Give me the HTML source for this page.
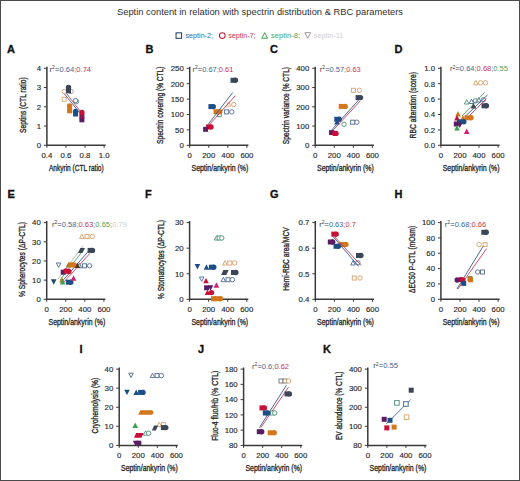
<!DOCTYPE html><html><head><meta charset="utf-8"><style>html,body{margin:0;padding:0;background:#fff;}svg{display:block;font-family:"Liberation Sans",sans-serif;}</style></head><body><svg width="520" height="481" viewBox="0 0 520 481" font-family="Liberation Sans, sans-serif">
<rect x="0" y="0" width="520" height="481" fill="#fff"/>
<text x="260" y="15" font-size="9.5" text-anchor="middle" fill="#303030" font-weight="normal" textLength="286" lengthAdjust="spacingAndGlyphs" >Septin content in relation with spectrin distribution &amp; RBC parameters</text>
<rect x="176.05" y="32.85" width="5.50" height="5.50" fill="white" stroke="#2e4a6e" stroke-width="1.1"/>
<text x="185.5" y="38.3" font-size="7.3" text-anchor="start" fill="#3d6a9c" font-weight="normal" textLength="27.5" lengthAdjust="spacingAndGlyphs" >septin-2;</text>
<circle cx="222.30" cy="35.60" r="2.85" fill="white" stroke="#c0283e" stroke-width="1.1"/>
<text x="228.3" y="38.3" font-size="7.3" text-anchor="start" fill="#c8344e" font-weight="normal" textLength="27.3" lengthAdjust="spacingAndGlyphs" >septin-7;</text>
<path d="M264.70,32.60 L267.60,38.20 L261.80,38.20Z" fill="white" stroke="#3a9a4a" stroke-width="1.0"/>
<text x="271" y="38.3" font-size="7.3" text-anchor="start" fill="#4aa55a" font-weight="normal" textLength="29" lengthAdjust="spacingAndGlyphs" >septin-8;</text>
<path d="M307.80,38.30 L310.70,32.70 L304.90,32.70Z" fill="white" stroke="#9a9a9a" stroke-width="1.0"/>
<text x="313.8" y="38.3" font-size="7.3" text-anchor="start" fill="#cfcfcf" font-weight="normal" textLength="29.5" lengthAdjust="spacingAndGlyphs" >septin-11</text>
<text x="6.9" y="52.5" font-size="11" text-anchor="start" fill="#111" font-weight="bold" stroke="#111" stroke-width="0.3" >A</text>
<path d="M46.9,66.80000000000001 V145.3 H105.6" fill="none" stroke="#3a3a3a" stroke-width="1.5"/>
<line x1="43.9" y1="145.30" x2="46.9" y2="145.30" stroke="#3a3a3a" stroke-width="1"/>
<text x="41.0" y="148.10000000000002" font-size="7.8" text-anchor="end" fill="#2a2a2a" font-weight="normal" stroke="#2a2a2a" stroke-width="0.15" >0</text>
<line x1="43.9" y1="126.05" x2="46.9" y2="126.05" stroke="#3a3a3a" stroke-width="1"/>
<text x="41.0" y="128.85000000000002" font-size="7.8" text-anchor="end" fill="#2a2a2a" font-weight="normal" stroke="#2a2a2a" stroke-width="0.15" >1</text>
<line x1="43.9" y1="106.80" x2="46.9" y2="106.80" stroke="#3a3a3a" stroke-width="1"/>
<text x="41.0" y="109.60000000000001" font-size="7.8" text-anchor="end" fill="#2a2a2a" font-weight="normal" stroke="#2a2a2a" stroke-width="0.15" >2</text>
<line x1="43.9" y1="87.55" x2="46.9" y2="87.55" stroke="#3a3a3a" stroke-width="1"/>
<text x="41.0" y="90.35000000000001" font-size="7.8" text-anchor="end" fill="#2a2a2a" font-weight="normal" stroke="#2a2a2a" stroke-width="0.15" >3</text>
<line x1="43.9" y1="68.30" x2="46.9" y2="68.30" stroke="#3a3a3a" stroke-width="1"/>
<text x="41.0" y="71.10000000000001" font-size="7.8" text-anchor="end" fill="#2a2a2a" font-weight="normal" stroke="#2a2a2a" stroke-width="0.15" >4</text>
<line x1="46.90" y1="145.3" x2="46.90" y2="147.8" stroke="#3a3a3a" stroke-width="1"/>
<text x="46.9" y="158.3" font-size="7.8" text-anchor="middle" fill="#2a2a2a" font-weight="normal" stroke="#2a2a2a" stroke-width="0.15" >0.4</text>
<line x1="65.97" y1="145.3" x2="65.97" y2="147.8" stroke="#3a3a3a" stroke-width="1"/>
<text x="65.97" y="158.3" font-size="7.8" text-anchor="middle" fill="#2a2a2a" font-weight="normal" stroke="#2a2a2a" stroke-width="0.15" >0.6</text>
<line x1="85.03" y1="145.3" x2="85.03" y2="147.8" stroke="#3a3a3a" stroke-width="1"/>
<text x="85.03" y="158.3" font-size="7.8" text-anchor="middle" fill="#2a2a2a" font-weight="normal" stroke="#2a2a2a" stroke-width="0.15" >0.8</text>
<line x1="104.10" y1="145.3" x2="104.10" y2="147.8" stroke="#3a3a3a" stroke-width="1"/>
<text x="104.1" y="158.3" font-size="7.8" text-anchor="middle" fill="#2a2a2a" font-weight="normal" stroke="#2a2a2a" stroke-width="0.15" >1.0</text>
<text transform="translate(25.9,105.15) rotate(-90)" x="0" y="0" font-size="9.3" text-anchor="middle" fill="#2a2a2a" textLength="55.5" lengthAdjust="spacingAndGlyphs" stroke="#2a2a2a" stroke-width="0.35">Septins (CTL ratio)</text>
<text x="76.3" y="171.3" font-size="9.3" text-anchor="middle" fill="#2a2a2a" font-weight="normal" textLength="54.8" lengthAdjust="spacingAndGlyphs" stroke="#2a2a2a" stroke-width="0.35" >Ankyrin (CTL ratio)</text>
<text x="145.4" y="52.5" font-size="11" text-anchor="start" fill="#111" font-weight="bold" stroke="#111" stroke-width="0.3" >B</text>
<path d="M189.7,66.80000000000001 V145.3 H248.39999999999998" fill="none" stroke="#3a3a3a" stroke-width="1.5"/>
<line x1="186.7" y1="145.30" x2="189.7" y2="145.30" stroke="#3a3a3a" stroke-width="1"/>
<text x="183.79999999999998" y="148.10000000000002" font-size="7.8" text-anchor="end" fill="#2a2a2a" font-weight="normal" stroke="#2a2a2a" stroke-width="0.15" >0</text>
<line x1="186.7" y1="129.90" x2="189.7" y2="129.90" stroke="#3a3a3a" stroke-width="1"/>
<text x="183.79999999999998" y="132.70000000000002" font-size="7.8" text-anchor="end" fill="#2a2a2a" font-weight="normal" stroke="#2a2a2a" stroke-width="0.15" >50</text>
<line x1="186.7" y1="114.50" x2="189.7" y2="114.50" stroke="#3a3a3a" stroke-width="1"/>
<text x="183.79999999999998" y="117.30000000000001" font-size="7.8" text-anchor="end" fill="#2a2a2a" font-weight="normal" stroke="#2a2a2a" stroke-width="0.15" >100</text>
<line x1="186.7" y1="99.10" x2="189.7" y2="99.10" stroke="#3a3a3a" stroke-width="1"/>
<text x="183.79999999999998" y="101.9" font-size="7.8" text-anchor="end" fill="#2a2a2a" font-weight="normal" stroke="#2a2a2a" stroke-width="0.15" >150</text>
<line x1="186.7" y1="83.70" x2="189.7" y2="83.70" stroke="#3a3a3a" stroke-width="1"/>
<text x="183.79999999999998" y="86.50000000000001" font-size="7.8" text-anchor="end" fill="#2a2a2a" font-weight="normal" stroke="#2a2a2a" stroke-width="0.15" >200</text>
<line x1="186.7" y1="68.30" x2="189.7" y2="68.30" stroke="#3a3a3a" stroke-width="1"/>
<text x="183.79999999999998" y="71.10000000000001" font-size="7.8" text-anchor="end" fill="#2a2a2a" font-weight="normal" stroke="#2a2a2a" stroke-width="0.15" >250</text>
<line x1="189.70" y1="145.3" x2="189.70" y2="147.8" stroke="#3a3a3a" stroke-width="1"/>
<text x="189.7" y="158.3" font-size="7.8" text-anchor="middle" fill="#2a2a2a" font-weight="normal" stroke="#2a2a2a" stroke-width="0.15" >0</text>
<line x1="208.77" y1="145.3" x2="208.77" y2="147.8" stroke="#3a3a3a" stroke-width="1"/>
<text x="208.77" y="158.3" font-size="7.8" text-anchor="middle" fill="#2a2a2a" font-weight="normal" stroke="#2a2a2a" stroke-width="0.15" >200</text>
<line x1="227.83" y1="145.3" x2="227.83" y2="147.8" stroke="#3a3a3a" stroke-width="1"/>
<text x="227.83" y="158.3" font-size="7.8" text-anchor="middle" fill="#2a2a2a" font-weight="normal" stroke="#2a2a2a" stroke-width="0.15" >400</text>
<line x1="246.90" y1="145.3" x2="246.90" y2="147.8" stroke="#3a3a3a" stroke-width="1"/>
<text x="246.9" y="158.3" font-size="7.8" text-anchor="middle" fill="#2a2a2a" font-weight="normal" stroke="#2a2a2a" stroke-width="0.15" >600</text>
<text transform="translate(163.3,105.2) rotate(-90)" x="0" y="0" font-size="9.3" text-anchor="middle" fill="#2a2a2a" textLength="77.4" lengthAdjust="spacingAndGlyphs" stroke="#2a2a2a" stroke-width="0.35">Spectrin covering (% CTL)</text>
<text x="219.9" y="171.3" font-size="9.3" text-anchor="middle" fill="#2a2a2a" font-weight="normal" textLength="56.8" lengthAdjust="spacingAndGlyphs" stroke="#2a2a2a" stroke-width="0.35" >Septin/ankyrin (%)</text>
<text x="269.9" y="52.5" font-size="11" text-anchor="start" fill="#111" font-weight="bold" stroke="#111" stroke-width="0.3" >C</text>
<path d="M315.2,66.80000000000001 V145.3 H373.9" fill="none" stroke="#3a3a3a" stroke-width="1.5"/>
<line x1="312.2" y1="145.30" x2="315.2" y2="145.30" stroke="#3a3a3a" stroke-width="1"/>
<text x="309.3" y="148.10000000000002" font-size="7.8" text-anchor="end" fill="#2a2a2a" font-weight="normal" stroke="#2a2a2a" stroke-width="0.15" >0</text>
<line x1="312.2" y1="126.05" x2="315.2" y2="126.05" stroke="#3a3a3a" stroke-width="1"/>
<text x="309.3" y="128.85000000000002" font-size="7.8" text-anchor="end" fill="#2a2a2a" font-weight="normal" stroke="#2a2a2a" stroke-width="0.15" >100</text>
<line x1="312.2" y1="106.80" x2="315.2" y2="106.80" stroke="#3a3a3a" stroke-width="1"/>
<text x="309.3" y="109.60000000000001" font-size="7.8" text-anchor="end" fill="#2a2a2a" font-weight="normal" stroke="#2a2a2a" stroke-width="0.15" >200</text>
<line x1="312.2" y1="87.55" x2="315.2" y2="87.55" stroke="#3a3a3a" stroke-width="1"/>
<text x="309.3" y="90.35000000000001" font-size="7.8" text-anchor="end" fill="#2a2a2a" font-weight="normal" stroke="#2a2a2a" stroke-width="0.15" >300</text>
<line x1="312.2" y1="68.30" x2="315.2" y2="68.30" stroke="#3a3a3a" stroke-width="1"/>
<text x="309.3" y="71.10000000000001" font-size="7.8" text-anchor="end" fill="#2a2a2a" font-weight="normal" stroke="#2a2a2a" stroke-width="0.15" >400</text>
<line x1="315.20" y1="145.3" x2="315.20" y2="147.8" stroke="#3a3a3a" stroke-width="1"/>
<text x="315.2" y="158.3" font-size="7.8" text-anchor="middle" fill="#2a2a2a" font-weight="normal" stroke="#2a2a2a" stroke-width="0.15" >0</text>
<line x1="334.27" y1="145.3" x2="334.27" y2="147.8" stroke="#3a3a3a" stroke-width="1"/>
<text x="334.27" y="158.3" font-size="7.8" text-anchor="middle" fill="#2a2a2a" font-weight="normal" stroke="#2a2a2a" stroke-width="0.15" >200</text>
<line x1="353.33" y1="145.3" x2="353.33" y2="147.8" stroke="#3a3a3a" stroke-width="1"/>
<text x="353.33" y="158.3" font-size="7.8" text-anchor="middle" fill="#2a2a2a" font-weight="normal" stroke="#2a2a2a" stroke-width="0.15" >400</text>
<line x1="372.40" y1="145.3" x2="372.40" y2="147.8" stroke="#3a3a3a" stroke-width="1"/>
<text x="372.4" y="158.3" font-size="7.8" text-anchor="middle" fill="#2a2a2a" font-weight="normal" stroke="#2a2a2a" stroke-width="0.15" >600</text>
<text transform="translate(289.0,105.6) rotate(-90)" x="0" y="0" font-size="9.3" text-anchor="middle" fill="#2a2a2a" textLength="77.2" lengthAdjust="spacingAndGlyphs" stroke="#2a2a2a" stroke-width="0.35">Spectrin variance (% CTL)</text>
<text x="345.4" y="171.3" font-size="9.3" text-anchor="middle" fill="#2a2a2a" font-weight="normal" textLength="56.8" lengthAdjust="spacingAndGlyphs" stroke="#2a2a2a" stroke-width="0.35" >Septin/ankyrin (%)</text>
<text x="394.5" y="52.5" font-size="11" text-anchor="start" fill="#111" font-weight="bold" stroke="#111" stroke-width="0.3" >D</text>
<path d="M440.9,66.80000000000001 V145.3 H499.59999999999997" fill="none" stroke="#3a3a3a" stroke-width="1.5"/>
<line x1="437.9" y1="145.30" x2="440.9" y2="145.30" stroke="#3a3a3a" stroke-width="1"/>
<text x="435.0" y="148.10000000000002" font-size="7.8" text-anchor="end" fill="#2a2a2a" font-weight="normal" stroke="#2a2a2a" stroke-width="0.15" >0.0</text>
<line x1="437.9" y1="129.90" x2="440.9" y2="129.90" stroke="#3a3a3a" stroke-width="1"/>
<text x="435.0" y="132.70000000000002" font-size="7.8" text-anchor="end" fill="#2a2a2a" font-weight="normal" stroke="#2a2a2a" stroke-width="0.15" >0.2</text>
<line x1="437.9" y1="114.50" x2="440.9" y2="114.50" stroke="#3a3a3a" stroke-width="1"/>
<text x="435.0" y="117.30000000000001" font-size="7.8" text-anchor="end" fill="#2a2a2a" font-weight="normal" stroke="#2a2a2a" stroke-width="0.15" >0.4</text>
<line x1="437.9" y1="99.10" x2="440.9" y2="99.10" stroke="#3a3a3a" stroke-width="1"/>
<text x="435.0" y="101.9" font-size="7.8" text-anchor="end" fill="#2a2a2a" font-weight="normal" stroke="#2a2a2a" stroke-width="0.15" >0.6</text>
<line x1="437.9" y1="83.70" x2="440.9" y2="83.70" stroke="#3a3a3a" stroke-width="1"/>
<text x="435.0" y="86.50000000000001" font-size="7.8" text-anchor="end" fill="#2a2a2a" font-weight="normal" stroke="#2a2a2a" stroke-width="0.15" >0.8</text>
<line x1="437.9" y1="68.30" x2="440.9" y2="68.30" stroke="#3a3a3a" stroke-width="1"/>
<text x="435.0" y="71.10000000000001" font-size="7.8" text-anchor="end" fill="#2a2a2a" font-weight="normal" stroke="#2a2a2a" stroke-width="0.15" >1.0</text>
<line x1="440.90" y1="145.3" x2="440.90" y2="147.8" stroke="#3a3a3a" stroke-width="1"/>
<text x="440.9" y="158.3" font-size="7.8" text-anchor="middle" fill="#2a2a2a" font-weight="normal" stroke="#2a2a2a" stroke-width="0.15" >0</text>
<line x1="459.97" y1="145.3" x2="459.97" y2="147.8" stroke="#3a3a3a" stroke-width="1"/>
<text x="459.97" y="158.3" font-size="7.8" text-anchor="middle" fill="#2a2a2a" font-weight="normal" stroke="#2a2a2a" stroke-width="0.15" >200</text>
<line x1="479.03" y1="145.3" x2="479.03" y2="147.8" stroke="#3a3a3a" stroke-width="1"/>
<text x="479.03" y="158.3" font-size="7.8" text-anchor="middle" fill="#2a2a2a" font-weight="normal" stroke="#2a2a2a" stroke-width="0.15" >400</text>
<line x1="498.10" y1="145.3" x2="498.10" y2="147.8" stroke="#3a3a3a" stroke-width="1"/>
<text x="498.1" y="158.3" font-size="7.8" text-anchor="middle" fill="#2a2a2a" font-weight="normal" stroke="#2a2a2a" stroke-width="0.15" >600</text>
<text transform="translate(415.6,105.2) rotate(-90)" x="0" y="0" font-size="9.3" text-anchor="middle" fill="#2a2a2a" textLength="66.4" lengthAdjust="spacingAndGlyphs" stroke="#2a2a2a" stroke-width="0.35">RBC alteration (score)</text>
<text x="471.1" y="171.3" font-size="9.3" text-anchor="middle" fill="#2a2a2a" font-weight="normal" textLength="56.8" lengthAdjust="spacingAndGlyphs" stroke="#2a2a2a" stroke-width="0.35" >Septin/ankyrin (%)</text>
<text x="7.4" y="198.1" font-size="11" text-anchor="start" fill="#111" font-weight="bold" stroke="#111" stroke-width="0.3" >E</text>
<path d="M46.7,221.10000000000002 V299.3 H105.4" fill="none" stroke="#3a3a3a" stroke-width="1.5"/>
<line x1="43.7" y1="299.30" x2="46.7" y2="299.30" stroke="#3a3a3a" stroke-width="1"/>
<text x="40.800000000000004" y="302.1" font-size="7.8" text-anchor="end" fill="#2a2a2a" font-weight="normal" stroke="#2a2a2a" stroke-width="0.15" >0</text>
<line x1="43.7" y1="280.12" x2="46.7" y2="280.12" stroke="#3a3a3a" stroke-width="1"/>
<text x="40.800000000000004" y="282.925" font-size="7.8" text-anchor="end" fill="#2a2a2a" font-weight="normal" stroke="#2a2a2a" stroke-width="0.15" >10</text>
<line x1="43.7" y1="260.95" x2="46.7" y2="260.95" stroke="#3a3a3a" stroke-width="1"/>
<text x="40.800000000000004" y="263.75" font-size="7.8" text-anchor="end" fill="#2a2a2a" font-weight="normal" stroke="#2a2a2a" stroke-width="0.15" >20</text>
<line x1="43.7" y1="241.78" x2="46.7" y2="241.78" stroke="#3a3a3a" stroke-width="1"/>
<text x="40.800000000000004" y="244.57500000000002" font-size="7.8" text-anchor="end" fill="#2a2a2a" font-weight="normal" stroke="#2a2a2a" stroke-width="0.15" >30</text>
<line x1="43.7" y1="222.60" x2="46.7" y2="222.60" stroke="#3a3a3a" stroke-width="1"/>
<text x="40.800000000000004" y="225.40000000000003" font-size="7.8" text-anchor="end" fill="#2a2a2a" font-weight="normal" stroke="#2a2a2a" stroke-width="0.15" >40</text>
<line x1="46.70" y1="299.3" x2="46.70" y2="301.8" stroke="#3a3a3a" stroke-width="1"/>
<text x="46.7" y="312.3" font-size="7.8" text-anchor="middle" fill="#2a2a2a" font-weight="normal" stroke="#2a2a2a" stroke-width="0.15" >0</text>
<line x1="65.77" y1="299.3" x2="65.77" y2="301.8" stroke="#3a3a3a" stroke-width="1"/>
<text x="65.77" y="312.3" font-size="7.8" text-anchor="middle" fill="#2a2a2a" font-weight="normal" stroke="#2a2a2a" stroke-width="0.15" >200</text>
<line x1="84.83" y1="299.3" x2="84.83" y2="301.8" stroke="#3a3a3a" stroke-width="1"/>
<text x="84.83" y="312.3" font-size="7.8" text-anchor="middle" fill="#2a2a2a" font-weight="normal" stroke="#2a2a2a" stroke-width="0.15" >400</text>
<line x1="103.90" y1="299.3" x2="103.90" y2="301.8" stroke="#3a3a3a" stroke-width="1"/>
<text x="103.9" y="312.3" font-size="7.8" text-anchor="middle" fill="#2a2a2a" font-weight="normal" stroke="#2a2a2a" stroke-width="0.15" >600</text>
<text transform="translate(24.6,259.55) rotate(-90)" x="0" y="0" font-size="9.3" text-anchor="middle" fill="#2a2a2a" textLength="75.1" lengthAdjust="spacingAndGlyphs" stroke="#2a2a2a" stroke-width="0.35">% Spherocytes (ΔP-CTL)</text>
<text x="76.9" y="325.3" font-size="9.3" text-anchor="middle" fill="#2a2a2a" font-weight="normal" textLength="56.8" lengthAdjust="spacingAndGlyphs" stroke="#2a2a2a" stroke-width="0.35" >Septin/ankyrin (%)</text>
<text x="144.9" y="198.1" font-size="11" text-anchor="start" fill="#111" font-weight="bold" stroke="#111" stroke-width="0.3" >F</text>
<path d="M189.6,221.10000000000002 V299.3 H248.3" fill="none" stroke="#3a3a3a" stroke-width="1.5"/>
<line x1="186.6" y1="299.30" x2="189.6" y2="299.30" stroke="#3a3a3a" stroke-width="1"/>
<text x="183.7" y="302.1" font-size="7.8" text-anchor="end" fill="#2a2a2a" font-weight="normal" stroke="#2a2a2a" stroke-width="0.15" >0</text>
<line x1="186.6" y1="273.73" x2="189.6" y2="273.73" stroke="#3a3a3a" stroke-width="1"/>
<text x="183.7" y="276.53333333333336" font-size="7.8" text-anchor="end" fill="#2a2a2a" font-weight="normal" stroke="#2a2a2a" stroke-width="0.15" >10</text>
<line x1="186.6" y1="248.17" x2="189.6" y2="248.17" stroke="#3a3a3a" stroke-width="1"/>
<text x="183.7" y="250.9666666666667" font-size="7.8" text-anchor="end" fill="#2a2a2a" font-weight="normal" stroke="#2a2a2a" stroke-width="0.15" >20</text>
<line x1="186.6" y1="222.60" x2="189.6" y2="222.60" stroke="#3a3a3a" stroke-width="1"/>
<text x="183.7" y="225.40000000000003" font-size="7.8" text-anchor="end" fill="#2a2a2a" font-weight="normal" stroke="#2a2a2a" stroke-width="0.15" >30</text>
<line x1="189.60" y1="299.3" x2="189.60" y2="301.8" stroke="#3a3a3a" stroke-width="1"/>
<text x="189.6" y="312.3" font-size="7.8" text-anchor="middle" fill="#2a2a2a" font-weight="normal" stroke="#2a2a2a" stroke-width="0.15" >0</text>
<line x1="208.67" y1="299.3" x2="208.67" y2="301.8" stroke="#3a3a3a" stroke-width="1"/>
<text x="208.67" y="312.3" font-size="7.8" text-anchor="middle" fill="#2a2a2a" font-weight="normal" stroke="#2a2a2a" stroke-width="0.15" >200</text>
<line x1="227.73" y1="299.3" x2="227.73" y2="301.8" stroke="#3a3a3a" stroke-width="1"/>
<text x="227.73" y="312.3" font-size="7.8" text-anchor="middle" fill="#2a2a2a" font-weight="normal" stroke="#2a2a2a" stroke-width="0.15" >400</text>
<line x1="246.80" y1="299.3" x2="246.80" y2="301.8" stroke="#3a3a3a" stroke-width="1"/>
<text x="246.8" y="312.3" font-size="7.8" text-anchor="middle" fill="#2a2a2a" font-weight="normal" stroke="#2a2a2a" stroke-width="0.15" >600</text>
<text transform="translate(164.3,259.55) rotate(-90)" x="0" y="0" font-size="9.3" text-anchor="middle" fill="#2a2a2a" textLength="79.3" lengthAdjust="spacingAndGlyphs" stroke="#2a2a2a" stroke-width="0.35">% Stomatocytes (ΔP-CTL)</text>
<text x="219.8" y="325.3" font-size="9.3" text-anchor="middle" fill="#2a2a2a" font-weight="normal" textLength="56.8" lengthAdjust="spacingAndGlyphs" stroke="#2a2a2a" stroke-width="0.35" >Septin/ankyrin (%)</text>
<text x="269.9" y="198.1" font-size="11" text-anchor="start" fill="#111" font-weight="bold" stroke="#111" stroke-width="0.3" >G</text>
<path d="M315.3,221.10000000000002 V299.3 H374.0" fill="none" stroke="#3a3a3a" stroke-width="1.5"/>
<line x1="312.3" y1="299.30" x2="315.3" y2="299.30" stroke="#3a3a3a" stroke-width="1"/>
<text x="309.40000000000003" y="302.1" font-size="7.8" text-anchor="end" fill="#2a2a2a" font-weight="normal" stroke="#2a2a2a" stroke-width="0.15" >0.4</text>
<line x1="312.3" y1="273.73" x2="315.3" y2="273.73" stroke="#3a3a3a" stroke-width="1"/>
<text x="309.40000000000003" y="276.53333333333336" font-size="7.8" text-anchor="end" fill="#2a2a2a" font-weight="normal" stroke="#2a2a2a" stroke-width="0.15" >0.5</text>
<line x1="312.3" y1="248.17" x2="315.3" y2="248.17" stroke="#3a3a3a" stroke-width="1"/>
<text x="309.40000000000003" y="250.9666666666667" font-size="7.8" text-anchor="end" fill="#2a2a2a" font-weight="normal" stroke="#2a2a2a" stroke-width="0.15" >0.6</text>
<line x1="312.3" y1="222.60" x2="315.3" y2="222.60" stroke="#3a3a3a" stroke-width="1"/>
<text x="309.40000000000003" y="225.40000000000003" font-size="7.8" text-anchor="end" fill="#2a2a2a" font-weight="normal" stroke="#2a2a2a" stroke-width="0.15" >0.7</text>
<line x1="315.30" y1="299.3" x2="315.30" y2="301.8" stroke="#3a3a3a" stroke-width="1"/>
<text x="315.3" y="312.3" font-size="7.8" text-anchor="middle" fill="#2a2a2a" font-weight="normal" stroke="#2a2a2a" stroke-width="0.15" >0</text>
<line x1="334.37" y1="299.3" x2="334.37" y2="301.8" stroke="#3a3a3a" stroke-width="1"/>
<text x="334.37" y="312.3" font-size="7.8" text-anchor="middle" fill="#2a2a2a" font-weight="normal" stroke="#2a2a2a" stroke-width="0.15" >200</text>
<line x1="353.43" y1="299.3" x2="353.43" y2="301.8" stroke="#3a3a3a" stroke-width="1"/>
<text x="353.43" y="312.3" font-size="7.8" text-anchor="middle" fill="#2a2a2a" font-weight="normal" stroke="#2a2a2a" stroke-width="0.15" >400</text>
<line x1="372.50" y1="299.3" x2="372.50" y2="301.8" stroke="#3a3a3a" stroke-width="1"/>
<text x="372.5" y="312.3" font-size="7.8" text-anchor="middle" fill="#2a2a2a" font-weight="normal" stroke="#2a2a2a" stroke-width="0.15" >600</text>
<text transform="translate(288.9,259.1) rotate(-90)" x="0" y="0" font-size="9.3" text-anchor="middle" fill="#2a2a2a" textLength="63.4" lengthAdjust="spacingAndGlyphs" stroke="#2a2a2a" stroke-width="0.35">Hemi-RBC area/MCV</text>
<text x="345.5" y="325.3" font-size="9.3" text-anchor="middle" fill="#2a2a2a" font-weight="normal" textLength="56.8" lengthAdjust="spacingAndGlyphs" stroke="#2a2a2a" stroke-width="0.35" >Septin/ankyrin (%)</text>
<text x="394.5" y="198.1" font-size="11" text-anchor="start" fill="#111" font-weight="bold" stroke="#111" stroke-width="0.3" >H</text>
<path d="M440.9,221.10000000000002 V299.3 H499.59999999999997" fill="none" stroke="#3a3a3a" stroke-width="1.5"/>
<line x1="437.9" y1="299.30" x2="440.9" y2="299.30" stroke="#3a3a3a" stroke-width="1"/>
<text x="435.0" y="302.1" font-size="7.8" text-anchor="end" fill="#2a2a2a" font-weight="normal" stroke="#2a2a2a" stroke-width="0.15" >0</text>
<line x1="437.9" y1="283.96" x2="440.9" y2="283.96" stroke="#3a3a3a" stroke-width="1"/>
<text x="435.0" y="286.76000000000005" font-size="7.8" text-anchor="end" fill="#2a2a2a" font-weight="normal" stroke="#2a2a2a" stroke-width="0.15" >20</text>
<line x1="437.9" y1="268.62" x2="440.9" y2="268.62" stroke="#3a3a3a" stroke-width="1"/>
<text x="435.0" y="271.42" font-size="7.8" text-anchor="end" fill="#2a2a2a" font-weight="normal" stroke="#2a2a2a" stroke-width="0.15" >40</text>
<line x1="437.9" y1="253.28" x2="440.9" y2="253.28" stroke="#3a3a3a" stroke-width="1"/>
<text x="435.0" y="256.08" font-size="7.8" text-anchor="end" fill="#2a2a2a" font-weight="normal" stroke="#2a2a2a" stroke-width="0.15" >60</text>
<line x1="437.9" y1="237.94" x2="440.9" y2="237.94" stroke="#3a3a3a" stroke-width="1"/>
<text x="435.0" y="240.74" font-size="7.8" text-anchor="end" fill="#2a2a2a" font-weight="normal" stroke="#2a2a2a" stroke-width="0.15" >80</text>
<line x1="437.9" y1="222.60" x2="440.9" y2="222.60" stroke="#3a3a3a" stroke-width="1"/>
<text x="435.0" y="225.40000000000003" font-size="7.8" text-anchor="end" fill="#2a2a2a" font-weight="normal" stroke="#2a2a2a" stroke-width="0.15" >100</text>
<line x1="440.90" y1="299.3" x2="440.90" y2="301.8" stroke="#3a3a3a" stroke-width="1"/>
<text x="440.9" y="312.3" font-size="7.8" text-anchor="middle" fill="#2a2a2a" font-weight="normal" stroke="#2a2a2a" stroke-width="0.15" >0</text>
<line x1="459.97" y1="299.3" x2="459.97" y2="301.8" stroke="#3a3a3a" stroke-width="1"/>
<text x="459.97" y="312.3" font-size="7.8" text-anchor="middle" fill="#2a2a2a" font-weight="normal" stroke="#2a2a2a" stroke-width="0.15" >200</text>
<line x1="479.03" y1="299.3" x2="479.03" y2="301.8" stroke="#3a3a3a" stroke-width="1"/>
<text x="479.03" y="312.3" font-size="7.8" text-anchor="middle" fill="#2a2a2a" font-weight="normal" stroke="#2a2a2a" stroke-width="0.15" >400</text>
<line x1="498.10" y1="299.3" x2="498.10" y2="301.8" stroke="#3a3a3a" stroke-width="1"/>
<text x="498.1" y="312.3" font-size="7.8" text-anchor="middle" fill="#2a2a2a" font-weight="normal" stroke="#2a2a2a" stroke-width="0.15" >600</text>
<text transform="translate(415.4,259.3) rotate(-90)" x="0" y="0" font-size="9.3" text-anchor="middle" fill="#2a2a2a" textLength="67.2" lengthAdjust="spacingAndGlyphs" stroke="#2a2a2a" stroke-width="0.35">ΔEC50 P-CTL (mOsm)</text>
<text x="471.1" y="325.3" font-size="9.3" text-anchor="middle" fill="#2a2a2a" font-weight="normal" textLength="56.8" lengthAdjust="spacingAndGlyphs" stroke="#2a2a2a" stroke-width="0.35" >Septin/ankyrin (%)</text>
<text x="79.4" y="352.5" font-size="11" text-anchor="start" fill="#111" font-weight="bold" stroke="#111" stroke-width="0.3" >I</text>
<path d="M119.2,367.59999999999997 V445.4 H177.9" fill="none" stroke="#3a3a3a" stroke-width="1.5"/>
<line x1="116.2" y1="445.40" x2="119.2" y2="445.40" stroke="#3a3a3a" stroke-width="1"/>
<text x="113.3" y="448.2" font-size="7.8" text-anchor="end" fill="#2a2a2a" font-weight="normal" stroke="#2a2a2a" stroke-width="0.15" >0</text>
<line x1="116.2" y1="426.32" x2="119.2" y2="426.32" stroke="#3a3a3a" stroke-width="1"/>
<text x="113.3" y="429.125" font-size="7.8" text-anchor="end" fill="#2a2a2a" font-weight="normal" stroke="#2a2a2a" stroke-width="0.15" >10</text>
<line x1="116.2" y1="407.25" x2="119.2" y2="407.25" stroke="#3a3a3a" stroke-width="1"/>
<text x="113.3" y="410.05" font-size="7.8" text-anchor="end" fill="#2a2a2a" font-weight="normal" stroke="#2a2a2a" stroke-width="0.15" >20</text>
<line x1="116.2" y1="388.17" x2="119.2" y2="388.17" stroke="#3a3a3a" stroke-width="1"/>
<text x="113.3" y="390.97499999999997" font-size="7.8" text-anchor="end" fill="#2a2a2a" font-weight="normal" stroke="#2a2a2a" stroke-width="0.15" >30</text>
<line x1="116.2" y1="369.10" x2="119.2" y2="369.10" stroke="#3a3a3a" stroke-width="1"/>
<text x="113.3" y="371.9" font-size="7.8" text-anchor="end" fill="#2a2a2a" font-weight="normal" stroke="#2a2a2a" stroke-width="0.15" >40</text>
<line x1="119.20" y1="445.4" x2="119.20" y2="447.9" stroke="#3a3a3a" stroke-width="1"/>
<text x="119.2" y="458.4" font-size="7.8" text-anchor="middle" fill="#2a2a2a" font-weight="normal" stroke="#2a2a2a" stroke-width="0.15" >0</text>
<line x1="138.27" y1="445.4" x2="138.27" y2="447.9" stroke="#3a3a3a" stroke-width="1"/>
<text x="138.27" y="458.4" font-size="7.8" text-anchor="middle" fill="#2a2a2a" font-weight="normal" stroke="#2a2a2a" stroke-width="0.15" >200</text>
<line x1="157.33" y1="445.4" x2="157.33" y2="447.9" stroke="#3a3a3a" stroke-width="1"/>
<text x="157.33" y="458.4" font-size="7.8" text-anchor="middle" fill="#2a2a2a" font-weight="normal" stroke="#2a2a2a" stroke-width="0.15" >400</text>
<line x1="176.40" y1="445.4" x2="176.40" y2="447.9" stroke="#3a3a3a" stroke-width="1"/>
<text x="176.4" y="458.4" font-size="7.8" text-anchor="middle" fill="#2a2a2a" font-weight="normal" stroke="#2a2a2a" stroke-width="0.15" >600</text>
<text transform="translate(98.0,405.6) rotate(-90)" x="0" y="0" font-size="9.3" text-anchor="middle" fill="#2a2a2a" textLength="55.6" lengthAdjust="spacingAndGlyphs" stroke="#2a2a2a" stroke-width="0.35">Cryohemolysis (%)</text>
<text x="149.4" y="471.4" font-size="9.3" text-anchor="middle" fill="#2a2a2a" font-weight="normal" textLength="56.8" lengthAdjust="spacingAndGlyphs" stroke="#2a2a2a" stroke-width="0.35" >Septin/ankyrin (%)</text>
<text x="197.9" y="352.5" font-size="11" text-anchor="start" fill="#111" font-weight="bold" stroke="#111" stroke-width="0.3" >J</text>
<path d="M243.6,367.59999999999997 V445.4 H302.3" fill="none" stroke="#3a3a3a" stroke-width="1.5"/>
<line x1="240.6" y1="445.40" x2="243.6" y2="445.40" stroke="#3a3a3a" stroke-width="1"/>
<text x="237.7" y="448.2" font-size="7.8" text-anchor="end" fill="#2a2a2a" font-weight="normal" stroke="#2a2a2a" stroke-width="0.15" >80</text>
<line x1="240.6" y1="430.14" x2="243.6" y2="430.14" stroke="#3a3a3a" stroke-width="1"/>
<text x="237.7" y="432.94" font-size="7.8" text-anchor="end" fill="#2a2a2a" font-weight="normal" stroke="#2a2a2a" stroke-width="0.15" >100</text>
<line x1="240.6" y1="414.88" x2="243.6" y2="414.88" stroke="#3a3a3a" stroke-width="1"/>
<text x="237.7" y="417.68" font-size="7.8" text-anchor="end" fill="#2a2a2a" font-weight="normal" stroke="#2a2a2a" stroke-width="0.15" >120</text>
<line x1="240.6" y1="399.62" x2="243.6" y2="399.62" stroke="#3a3a3a" stroke-width="1"/>
<text x="237.7" y="402.42" font-size="7.8" text-anchor="end" fill="#2a2a2a" font-weight="normal" stroke="#2a2a2a" stroke-width="0.15" >140</text>
<line x1="240.6" y1="384.36" x2="243.6" y2="384.36" stroke="#3a3a3a" stroke-width="1"/>
<text x="237.7" y="387.15999999999997" font-size="7.8" text-anchor="end" fill="#2a2a2a" font-weight="normal" stroke="#2a2a2a" stroke-width="0.15" >160</text>
<line x1="240.6" y1="369.10" x2="243.6" y2="369.10" stroke="#3a3a3a" stroke-width="1"/>
<text x="237.7" y="371.9" font-size="7.8" text-anchor="end" fill="#2a2a2a" font-weight="normal" stroke="#2a2a2a" stroke-width="0.15" >180</text>
<line x1="243.60" y1="445.4" x2="243.60" y2="447.9" stroke="#3a3a3a" stroke-width="1"/>
<text x="243.6" y="458.4" font-size="7.8" text-anchor="middle" fill="#2a2a2a" font-weight="normal" stroke="#2a2a2a" stroke-width="0.15" >0</text>
<line x1="262.67" y1="445.4" x2="262.67" y2="447.9" stroke="#3a3a3a" stroke-width="1"/>
<text x="262.67" y="458.4" font-size="7.8" text-anchor="middle" fill="#2a2a2a" font-weight="normal" stroke="#2a2a2a" stroke-width="0.15" >200</text>
<line x1="281.73" y1="445.4" x2="281.73" y2="447.9" stroke="#3a3a3a" stroke-width="1"/>
<text x="281.73" y="458.4" font-size="7.8" text-anchor="middle" fill="#2a2a2a" font-weight="normal" stroke="#2a2a2a" stroke-width="0.15" >400</text>
<line x1="300.80" y1="445.4" x2="300.80" y2="447.9" stroke="#3a3a3a" stroke-width="1"/>
<text x="300.8" y="458.4" font-size="7.8" text-anchor="middle" fill="#2a2a2a" font-weight="normal" stroke="#2a2a2a" stroke-width="0.15" >600</text>
<text transform="translate(218.4,405.75) rotate(-90)" x="0" y="0" font-size="9.3" text-anchor="middle" fill="#2a2a2a" textLength="70.1" lengthAdjust="spacingAndGlyphs" stroke="#2a2a2a" stroke-width="0.35">Fluo-4 fluo/Hb (% CTL)</text>
<text x="273.8" y="471.4" font-size="9.3" text-anchor="middle" fill="#2a2a2a" font-weight="normal" textLength="56.8" lengthAdjust="spacingAndGlyphs" stroke="#2a2a2a" stroke-width="0.35" >Septin/ankyrin (%)</text>
<text x="322.9" y="352.5" font-size="11" text-anchor="start" fill="#111" font-weight="bold" stroke="#111" stroke-width="0.3" >K</text>
<path d="M367.8,367.59999999999997 V445.4 H426.5" fill="none" stroke="#3a3a3a" stroke-width="1.5"/>
<line x1="364.8" y1="445.40" x2="367.8" y2="445.40" stroke="#3a3a3a" stroke-width="1"/>
<text x="361.90000000000003" y="448.2" font-size="7.8" text-anchor="end" fill="#2a2a2a" font-weight="normal" stroke="#2a2a2a" stroke-width="0.15" >80</text>
<line x1="364.8" y1="426.32" x2="367.8" y2="426.32" stroke="#3a3a3a" stroke-width="1"/>
<text x="361.90000000000003" y="429.125" font-size="7.8" text-anchor="end" fill="#2a2a2a" font-weight="normal" stroke="#2a2a2a" stroke-width="0.15" >100</text>
<line x1="364.8" y1="407.25" x2="367.8" y2="407.25" stroke="#3a3a3a" stroke-width="1"/>
<text x="361.90000000000003" y="410.05" font-size="7.8" text-anchor="end" fill="#2a2a2a" font-weight="normal" stroke="#2a2a2a" stroke-width="0.15" >200</text>
<line x1="364.8" y1="388.17" x2="367.8" y2="388.17" stroke="#3a3a3a" stroke-width="1"/>
<text x="361.90000000000003" y="390.97499999999997" font-size="7.8" text-anchor="end" fill="#2a2a2a" font-weight="normal" stroke="#2a2a2a" stroke-width="0.15" >300</text>
<line x1="364.8" y1="369.10" x2="367.8" y2="369.10" stroke="#3a3a3a" stroke-width="1"/>
<text x="361.90000000000003" y="371.9" font-size="7.8" text-anchor="end" fill="#2a2a2a" font-weight="normal" stroke="#2a2a2a" stroke-width="0.15" >400</text>
<line x1="367.80" y1="445.4" x2="367.80" y2="447.9" stroke="#3a3a3a" stroke-width="1"/>
<text x="367.8" y="458.4" font-size="7.8" text-anchor="middle" fill="#2a2a2a" font-weight="normal" stroke="#2a2a2a" stroke-width="0.15" >0</text>
<line x1="386.87" y1="445.4" x2="386.87" y2="447.9" stroke="#3a3a3a" stroke-width="1"/>
<text x="386.87" y="458.4" font-size="7.8" text-anchor="middle" fill="#2a2a2a" font-weight="normal" stroke="#2a2a2a" stroke-width="0.15" >200</text>
<line x1="405.93" y1="445.4" x2="405.93" y2="447.9" stroke="#3a3a3a" stroke-width="1"/>
<text x="405.93" y="458.4" font-size="7.8" text-anchor="middle" fill="#2a2a2a" font-weight="normal" stroke="#2a2a2a" stroke-width="0.15" >400</text>
<line x1="425.00" y1="445.4" x2="425.00" y2="447.9" stroke="#3a3a3a" stroke-width="1"/>
<text x="425.0" y="458.4" font-size="7.8" text-anchor="middle" fill="#2a2a2a" font-weight="normal" stroke="#2a2a2a" stroke-width="0.15" >600</text>
<text transform="translate(342.3,405.8) rotate(-90)" x="0" y="0" font-size="9.3" text-anchor="middle" fill="#2a2a2a" textLength="68.4" lengthAdjust="spacingAndGlyphs" stroke="#2a2a2a" stroke-width="0.35">EV abundance (% CTL)</text>
<text x="398.0" y="471.4" font-size="9.3" text-anchor="middle" fill="#2a2a2a" font-weight="normal" textLength="56.8" lengthAdjust="spacingAndGlyphs" stroke="#2a2a2a" stroke-width="0.35" >Septin/ankyrin (%)</text>
<text x="49.6" y="71.5" font-size="7.3" textLength="41.5" lengthAdjust="spacingAndGlyphs"><tspan fill="#444">r</tspan><tspan fill="#444" font-size="5" dy="-2.6">2</tspan><tspan fill="#444" dy="2.6">=</tspan><tspan fill="#3d6a9c">0.64</tspan><tspan fill="#777">;</tspan><tspan fill="#c8344e">0.74</tspan></text>
<text x="192.5" y="71.5" font-size="7.3" textLength="40.9" lengthAdjust="spacingAndGlyphs"><tspan fill="#444">r</tspan><tspan fill="#444" font-size="5" dy="-2.6">2</tspan><tspan fill="#444" dy="2.6">=</tspan><tspan fill="#3d6a9c">0.67</tspan><tspan fill="#777">;</tspan><tspan fill="#c8344e">0.61</tspan></text>
<text x="319.8" y="71.5" font-size="7.3" textLength="40.9" lengthAdjust="spacingAndGlyphs"><tspan fill="#444">r</tspan><tspan fill="#444" font-size="5" dy="-2.6">2</tspan><tspan fill="#444" dy="2.6">=</tspan><tspan fill="#3d6a9c">0.57</tspan><tspan fill="#777">;</tspan><tspan fill="#c8344e">0.63</tspan></text>
<text x="450.1" y="71.4" font-size="7.3" textLength="57.9" lengthAdjust="spacingAndGlyphs"><tspan fill="#444">r</tspan><tspan fill="#444" font-size="5" dy="-2.6">2</tspan><tspan fill="#444" dy="2.6">=</tspan><tspan fill="#3d6a9c">0.64</tspan><tspan fill="#777">;</tspan><tspan fill="#c8344e">0.68</tspan><tspan fill="#777">;</tspan><tspan fill="#4aa55a">0.55</tspan></text>
<text x="51.9" y="226.5" font-size="7.3" textLength="75" lengthAdjust="spacingAndGlyphs"><tspan fill="#444">r</tspan><tspan fill="#444" font-size="5" dy="-2.6">2</tspan><tspan fill="#444" dy="2.6">=</tspan><tspan fill="#3d6a9c">0.58</tspan><tspan fill="#777">;</tspan><tspan fill="#c8344e">0.63</tspan><tspan fill="#777">;</tspan><tspan fill="#4aa55a">0.65</tspan><tspan fill="#777">;</tspan><tspan fill="#cfcfcf">0.79</tspan></text>
<text x="319.2" y="226.5" font-size="7.3" textLength="36.7" lengthAdjust="spacingAndGlyphs"><tspan fill="#444">r</tspan><tspan fill="#444" font-size="5" dy="-2.6">2</tspan><tspan fill="#444" dy="2.6">=</tspan><tspan fill="#3d6a9c">0.63</tspan><tspan fill="#777">;</tspan><tspan fill="#c8344e">0.7</tspan></text>
<text x="444.8" y="226.5" font-size="7.3" textLength="41.5" lengthAdjust="spacingAndGlyphs"><tspan fill="#444">r</tspan><tspan fill="#444" font-size="5" dy="-2.6">2</tspan><tspan fill="#444" dy="2.6">=</tspan><tspan fill="#3d6a9c">0.68</tspan><tspan fill="#777">;</tspan><tspan fill="#c8344e">0.66</tspan></text>
<text x="252.1" y="368.6" font-size="7.3" textLength="36.9" lengthAdjust="spacingAndGlyphs"><tspan fill="#444">r</tspan><tspan fill="#444" font-size="5" dy="-2.6">2</tspan><tspan fill="#444" dy="2.6">=</tspan><tspan fill="#3d6a9c">0.6</tspan><tspan fill="#777">;</tspan><tspan fill="#c8344e">0.62</tspan></text>
<text x="373.3" y="368.4" font-size="7.3" textLength="24.7" lengthAdjust="spacingAndGlyphs"><tspan fill="#444">r</tspan><tspan fill="#444" font-size="5" dy="-2.6">2</tspan><tspan fill="#444" dy="2.6">=</tspan><tspan fill="#3d6a9c">0.55</tspan></text>
<circle cx="64.20" cy="91.50" r="2.20" fill="white" stroke="#dcaa7a" stroke-width="1.0"/>
<circle cx="71.00" cy="91.50" r="2.20" fill="white" stroke="#a8a8a8" stroke-width="1.0"/>
<rect x="62.20" y="97.20" width="4.00" height="4.00" fill="white" stroke="#dcaa7a" stroke-width="1.0"/>
<circle cx="76.50" cy="101.50" r="2.20" fill="white" stroke="#5a9a80" stroke-width="1.0"/>
<circle cx="75.50" cy="100.50" r="2.20" fill="white" stroke="#5f78a0" stroke-width="1.0"/>
<circle cx="68.50" cy="87.50" r="2.70" fill="#3b4658"/>
<rect x="66.00" y="88.30" width="5.00" height="5.00" fill="#3b4658"/>
<line x1="64.5" y1="94" x2="79" y2="112" stroke="#38578a" stroke-width="0.9"/>
<line x1="66.5" y1="93.5" x2="80.5" y2="111.5" stroke="#c04058" stroke-width="0.9"/>
<circle cx="69.60" cy="106.00" r="2.70" fill="#d4771c"/>
<rect x="67.10" y="108.30" width="5.00" height="5.00" fill="#d4771c"/>
<rect x="67.50" y="106.30" width="4.20" height="4.20" fill="#d4771c"/>
<circle cx="75.60" cy="111.40" r="2.70" fill="#1d4f86"/>
<rect x="73.10" y="111.50" width="5.00" height="5.00" fill="#1d4f86"/>
<rect x="79.40" y="117.30" width="5.00" height="5.00" fill="#5a1d63"/>
<rect x="79.40" y="113.70" width="5.00" height="5.00" fill="#8a1850"/>
<circle cx="81.90" cy="112.40" r="2.70" fill="#c80f35"/>
<rect x="230.50" y="77.80" width="5.00" height="5.00" fill="#3b4658"/>
<circle cx="235.40" cy="80.30" r="2.70" fill="#3b4658"/>
<rect x="208.40" y="104.10" width="5.00" height="5.00" fill="#1d4f86"/>
<circle cx="213.30" cy="106.60" r="2.70" fill="#1d4f86"/>
<path d="M228.60,101.80 L230.90,106.20 L226.30,106.20Z" fill="white" stroke="#dcaa7a" stroke-width="1.0"/>
<circle cx="233.80" cy="104.50" r="2.20" fill="white" stroke="#dcaa7a" stroke-width="1.0"/>
<rect x="217.30" y="112.60" width="4.00" height="4.00" fill="white" stroke="#5a9a80" stroke-width="1.0"/>
<rect x="224.60" y="109.90" width="4.00" height="4.00" fill="white" stroke="#5f78a0" stroke-width="1.0"/>
<circle cx="231.80" cy="111.90" r="2.20" fill="white" stroke="#5f78a0" stroke-width="1.0"/>
<rect x="213.50" y="109.20" width="5.00" height="5.00" fill="#d4771c"/>
<circle cx="219.80" cy="111.70" r="2.70" fill="#d4771c"/>
<line x1="208" y1="124.5" x2="232.7" y2="92.5" stroke="#38578a" stroke-width="0.9"/>
<line x1="209.5" y1="124.5" x2="235.3" y2="95.7" stroke="#c04058" stroke-width="0.9"/>
<rect x="206.10" y="124.40" width="5.00" height="5.00" fill="#c80f35"/>
<circle cx="211.00" cy="126.90" r="2.70" fill="#c80f35"/>
<rect x="203.10" y="126.80" width="5.00" height="5.00" fill="#5a1d63"/>
<rect x="351.40" y="88.30" width="4.00" height="4.00" fill="white" stroke="#dcaa7a" stroke-width="1.0"/>
<circle cx="359.40" cy="90.30" r="2.20" fill="white" stroke="#dcaa7a" stroke-width="1.0"/>
<rect x="355.60" y="95.10" width="5.00" height="5.00" fill="#3b4658"/>
<circle cx="360.50" cy="97.60" r="2.70" fill="#3b4658"/>
<rect x="338.70" y="103.90" width="5.00" height="5.00" fill="#d4771c"/>
<circle cx="345.20" cy="106.40" r="2.70" fill="#d4771c"/>
<path d="M337.00,119.10 L339.80,124.50 L334.20,124.50Z" fill="#1d4f86"/>
<rect x="334.30" y="116.80" width="5.00" height="5.00" fill="#1d4f86"/>
<circle cx="339.20" cy="119.30" r="2.70" fill="#1d4f86"/>
<circle cx="344.00" cy="124.30" r="2.20" fill="white" stroke="#5a9a80" stroke-width="1.0"/>
<rect x="350.60" y="120.20" width="4.00" height="4.00" fill="white" stroke="#5f78a0" stroke-width="1.0"/>
<circle cx="356.90" cy="122.20" r="2.20" fill="white" stroke="#5f78a0" stroke-width="1.0"/>
<line x1="331.2" y1="130.5" x2="358.8" y2="99.9" stroke="#38578a" stroke-width="0.9"/>
<line x1="332.2" y1="131.2" x2="360.2" y2="101" stroke="#c04058" stroke-width="0.9"/>
<rect x="329.10" y="130.10" width="5.00" height="5.00" fill="#5a1d63"/>
<circle cx="334.60" cy="133.40" r="2.70" fill="#c80f35"/>
<circle cx="336.00" cy="133.40" r="2.70" fill="#c80f35"/>
<path d="M475.80,80.40 L478.10,84.80 L473.50,84.80Z" fill="white" stroke="#dcaa7a" stroke-width="1.0"/>
<circle cx="480.60" cy="82.80" r="2.20" fill="white" stroke="#dcaa7a" stroke-width="1.0"/>
<circle cx="485.60" cy="82.80" r="2.20" fill="white" stroke="#dcaa7a" stroke-width="1.0"/>
<path d="M466.70,99.60 L469.00,104.00 L464.40,104.00Z" fill="white" stroke="#5a9a80" stroke-width="1.0"/>
<path d="M471.50,99.10 L473.80,103.50 L469.20,103.50Z" fill="white" stroke="#5f78a0" stroke-width="1.0"/>
<circle cx="475.50" cy="100.80" r="2.20" fill="white" stroke="#5f78a0" stroke-width="1.0"/>
<path d="M478.80,97.60 L481.10,102.00 L476.50,102.00Z" fill="white" stroke="#5f78a0" stroke-width="1.0"/>
<circle cx="483.30" cy="99.80" r="2.20" fill="white" stroke="#5f78a0" stroke-width="1.0"/>
<line x1="462" y1="116" x2="484.6" y2="92.5" stroke="#4aa55a" stroke-width="0.9"/>
<line x1="464.5" y1="117" x2="487.5" y2="95" stroke="#38578a" stroke-width="0.9"/>
<line x1="467" y1="118" x2="486.5" y2="98.5" stroke="#c04058" stroke-width="0.9"/>
<path d="M473.50,103.10 L476.30,108.50 L470.70,108.50Z" fill="#3b4658"/>
<rect x="481.50" y="103.30" width="5.00" height="5.00" fill="#3b4658"/>
<circle cx="486.40" cy="105.80" r="2.70" fill="#3b4658"/>
<path d="M458.00,111.10 L460.80,116.50 L455.20,116.50Z" fill="#d4771c"/>
<path d="M457.00,115.10 L459.80,120.50 L454.20,120.50Z" fill="#c80f35"/>
<path d="M463.00,115.10 L465.80,120.50 L460.20,120.50Z" fill="#d4771c"/>
<rect x="464.50" y="115.30" width="5.00" height="5.00" fill="#d4771c"/>
<circle cx="471.00" cy="117.80" r="2.70" fill="#d4771c"/>
<rect x="457.00" y="119.30" width="5.00" height="5.00" fill="#1d4f86"/>
<circle cx="463.80" cy="121.80" r="2.70" fill="#1d4f86"/>
<rect x="453.80" y="121.50" width="5.00" height="5.00" fill="#5a1d63"/>
<path d="M459.80,127.90 L462.60,122.50 L457.00,122.50Z" fill="#5a1d63"/>
<path d="M457.00,125.10 L459.80,130.50 L454.20,130.50Z" fill="#3aa050"/>
<path d="M466.70,128.50 L469.50,133.90 L463.90,133.90Z" fill="#d2206e"/>
<path d="M81.80,234.10 L84.10,238.50 L79.50,238.50Z" fill="white" stroke="#dcaa7a" stroke-width="1.0"/>
<rect x="85.00" y="234.50" width="4.00" height="4.00" fill="white" stroke="#dcaa7a" stroke-width="1.0"/>
<circle cx="92.20" cy="236.50" r="2.20" fill="white" stroke="#dcaa7a" stroke-width="1.0"/>
<line x1="58" y1="279" x2="83" y2="246" stroke="#b0b0b0" stroke-width="0.9"/>
<line x1="60" y1="280" x2="85" y2="248" stroke="#4aa55a" stroke-width="0.9"/>
<line x1="61.5" y1="282" x2="88.3" y2="251.4" stroke="#38578a" stroke-width="0.9"/>
<line x1="63" y1="283" x2="89.8" y2="253.5" stroke="#c04058" stroke-width="0.9"/>
<path d="M78.10,252.90 L80.30,247.90 L84.70,247.90 L82.50,252.90Z" fill="#3b4658"/>
<rect x="87.60" y="247.90" width="5.00" height="5.00" fill="#3b4658"/>
<circle cx="92.50" cy="250.40" r="2.70" fill="#3b4658"/>
<path d="M58.60,267.40 L60.90,263.00 L56.30,263.00Z" fill="white" stroke="#5f78a0" stroke-width="1.0"/>
<path d="M79.50,263.40 L81.80,267.80 L77.20,267.80Z" fill="white" stroke="#5f78a0" stroke-width="1.0"/>
<rect x="82.50" y="263.80" width="4.00" height="4.00" fill="white" stroke="#5f78a0" stroke-width="1.0"/>
<circle cx="89.60" cy="265.80" r="2.20" fill="white" stroke="#5f78a0" stroke-width="1.0"/>
<path d="M68.50,262.10 L71.30,267.50 L65.70,267.50Z" fill="#8a7a2a"/>
<rect x="68.50" y="262.40" width="5.00" height="5.00" fill="#d4771c"/>
<circle cx="74.00" cy="264.90" r="2.70" fill="#d4771c"/>
<path d="M77.50,262.60 L80.30,268.00 L74.70,268.00Z" fill="#5a3a20"/>
<rect x="60.70" y="269.70" width="5.00" height="5.00" fill="#5a1d63"/>
<circle cx="66.00" cy="271.00" r="2.70" fill="#c80f35"/>
<circle cx="68.80" cy="271.50" r="2.70" fill="#c80f35"/>
<path d="M53.70,284.70 L56.50,279.30 L50.90,279.30Z" fill="#1d4a66"/>
<path d="M62.00,277.10 L64.80,282.50 L59.20,282.50Z" fill="#d4771c"/>
<path d="M62.60,279.10 L65.40,284.50 L59.80,284.50Z" fill="#3aa050"/>
<rect x="65.90" y="279.70" width="5.00" height="5.00" fill="#1d4f86"/>
<circle cx="70.80" cy="282.20" r="2.70" fill="#1d4f86"/>
<path d="M73.50,275.30 L76.30,280.70 L70.70,280.70Z" fill="#d2206e"/>
<path d="M216.60,235.60 L218.90,240.00 L214.30,240.00Z" fill="white" stroke="#5a9a80" stroke-width="1.0"/>
<rect x="217.20" y="236.00" width="4.00" height="4.00" fill="white" stroke="#5a9a80" stroke-width="1.0"/>
<circle cx="221.80" cy="238.00" r="2.20" fill="white" stroke="#5a9a80" stroke-width="1.0"/>
<path d="M225.00,260.60 L227.30,265.00 L222.70,265.00Z" fill="white" stroke="#dcaa7a" stroke-width="1.0"/>
<rect x="227.80" y="261.00" width="4.00" height="4.00" fill="white" stroke="#dcaa7a" stroke-width="1.0"/>
<circle cx="234.60" cy="263.00" r="2.20" fill="white" stroke="#dcaa7a" stroke-width="1.0"/>
<path d="M197.40,269.50 L200.20,264.10 L194.60,264.10Z" fill="#1d4f86"/>
<path d="M206.50,264.30 L209.30,269.70 L203.70,269.70Z" fill="#1d4f86"/>
<rect x="208.90" y="264.70" width="5.00" height="5.00" fill="#1d4f86"/>
<circle cx="213.80" cy="267.20" r="2.70" fill="#1d4f86"/>
<path d="M221.20,275.00 L223.40,270.00 L228.60,270.00 L226.40,275.00Z" fill="#3b4658"/>
<rect x="231.00" y="270.00" width="5.00" height="5.00" fill="#3b4658"/>
<circle cx="235.90" cy="272.50" r="2.70" fill="#3b4658"/>
<path d="M223.30,277.30 L225.60,281.70 L221.00,281.70Z" fill="white" stroke="#5f78a0" stroke-width="1.0"/>
<rect x="226.00" y="277.70" width="4.00" height="4.00" fill="white" stroke="#5f78a0" stroke-width="1.0"/>
<circle cx="232.40" cy="279.70" r="2.20" fill="white" stroke="#5f78a0" stroke-width="1.0"/>
<path d="M201.70,281.40 L204.00,277.00 L199.40,277.00Z" fill="white" stroke="#5f78a0" stroke-width="1.0"/>
<path d="M206.00,277.90 L208.80,283.30 L203.20,283.30Z" fill="#c80f35"/>
<path d="M216.40,282.30 L219.20,287.70 L213.60,287.70Z" fill="#d2206e"/>
<rect x="204.10" y="285.30" width="5.00" height="5.00" fill="#5a1d63"/>
<path d="M210.50,290.70 L213.30,285.30 L207.70,285.30Z" fill="#5a1d63"/>
<path d="M207.50,289.70 L210.30,295.10 L204.70,295.10Z" fill="#c80f35"/>
<circle cx="211.50" cy="292.60" r="2.70" fill="#c80f35"/>
<rect x="211.00" y="296.20" width="5.00" height="5.00" fill="#d4771c"/>
<rect x="214.50" y="296.20" width="5.00" height="5.00" fill="#d4771c"/>
<circle cx="220.50" cy="298.70" r="2.70" fill="#d4771c"/>
<rect x="331.30" y="231.60" width="5.00" height="5.00" fill="#c80f35"/>
<circle cx="336.20" cy="234.10" r="2.70" fill="#c80f35"/>
<rect x="327.80" y="239.50" width="5.00" height="5.00" fill="#5a1d63"/>
<circle cx="332.70" cy="242.00" r="2.70" fill="#5a1d63"/>
<rect x="339.20" y="241.90" width="5.00" height="5.00" fill="#d4771c"/>
<circle cx="345.90" cy="244.40" r="2.70" fill="#d4771c"/>
<rect x="333.50" y="243.80" width="5.00" height="5.00" fill="#1d4f86"/>
<circle cx="338.40" cy="246.30" r="2.70" fill="#1d4f86"/>
<rect x="356.00" y="253.00" width="5.00" height="5.00" fill="#3b4658"/>
<circle cx="360.90" cy="255.50" r="2.70" fill="#3b4658"/>
<path d="M353.00,260.60 L355.30,265.00 L350.70,265.00Z" fill="white" stroke="#5f78a0" stroke-width="1.0"/>
<circle cx="357.90" cy="262.80" r="2.20" fill="white" stroke="#5f78a0" stroke-width="1.0"/>
<line x1="332.9" y1="236.3" x2="358.6" y2="266.4" stroke="#38578a" stroke-width="0.9"/>
<line x1="333.5" y1="235.5" x2="361.2" y2="265.6" stroke="#c04058" stroke-width="0.9"/>
<rect x="352.30" y="276.00" width="4.00" height="4.00" fill="white" stroke="#dcaa7a" stroke-width="1.0"/>
<circle cx="360.00" cy="278.00" r="2.20" fill="white" stroke="#dcaa7a" stroke-width="1.0"/>
<rect x="481.30" y="229.80" width="5.00" height="5.00" fill="#3b4658"/>
<circle cx="486.20" cy="232.30" r="2.70" fill="#3b4658"/>
<circle cx="479.10" cy="244.60" r="2.20" fill="white" stroke="#dcaa7a" stroke-width="1.0"/>
<rect x="483.10" y="242.60" width="4.00" height="4.00" fill="white" stroke="#dcaa7a" stroke-width="1.0"/>
<circle cx="477.70" cy="272.00" r="2.20" fill="white" stroke="#5f78a0" stroke-width="1.0"/>
<rect x="480.50" y="270.00" width="4.00" height="4.00" fill="white" stroke="#5f78a0" stroke-width="1.0"/>
<line x1="456.9" y1="289.1" x2="483.1" y2="246.3" stroke="#38578a" stroke-width="0.9"/>
<line x1="458" y1="289" x2="486.6" y2="248.6" stroke="#c04058" stroke-width="0.9"/>
<rect x="467.50" y="276.10" width="5.00" height="5.00" fill="#8a7a2a"/>
<rect x="468.00" y="277.30" width="5.00" height="5.00" fill="#d4771c"/>
<circle cx="457.20" cy="280.00" r="2.70" fill="#5a1d63"/>
<circle cx="460.60" cy="279.60" r="2.70" fill="#8a1050"/>
<circle cx="462.80" cy="280.00" r="2.70" fill="#c80f35"/>
<rect x="461.20" y="280.90" width="5.00" height="5.00" fill="#1d4f86"/>
<path d="M131.00,377.60 L133.30,373.20 L128.70,373.20Z" fill="white" stroke="#5f78a0" stroke-width="1.0"/>
<path d="M152.50,373.20 L154.80,377.60 L150.20,377.60Z" fill="white" stroke="#5f78a0" stroke-width="1.0"/>
<rect x="155.00" y="373.60" width="4.00" height="4.00" fill="white" stroke="#5f78a0" stroke-width="1.0"/>
<circle cx="161.40" cy="375.60" r="2.20" fill="white" stroke="#5f78a0" stroke-width="1.0"/>
<path d="M127.00,395.10 L129.80,389.70 L124.20,389.70Z" fill="#1d4f86"/>
<path d="M136.20,389.50 L139.00,394.90 L133.40,394.90Z" fill="#1d4f86"/>
<rect x="138.10" y="389.90" width="5.00" height="5.00" fill="#1d4f86"/>
<circle cx="143.00" cy="392.40" r="2.70" fill="#1d4f86"/>
<path d="M138.20,414.85 L140.40,410.35 L151.80,410.35 L149.60,414.85Z" fill="#d4771c"/>
<circle cx="151.00" cy="412.60" r="2.45" fill="#d4771c"/>
<path d="M135.20,422.60 L138.00,428.00 L132.40,428.00Z" fill="#3aa050"/>
<path d="M159.20,422.20 L161.50,426.60 L156.90,426.60Z" fill="white" stroke="#dcaa7a" stroke-width="1.0"/>
<rect x="161.40" y="422.60" width="4.00" height="4.00" fill="white" stroke="#dcaa7a" stroke-width="1.0"/>
<path d="M151.90,430.50 L154.10,425.50 L158.10,425.50 L155.90,430.50Z" fill="#3b4658"/>
<rect x="160.90" y="425.10" width="5.00" height="5.00" fill="#3b4658"/>
<circle cx="165.80" cy="427.60" r="2.70" fill="#3b4658"/>
<path d="M145.60,430.80 L147.90,435.20 L143.30,435.20Z" fill="white" stroke="#5a9a80" stroke-width="1.0"/>
<circle cx="148.60" cy="433.20" r="2.20" fill="white" stroke="#5a9a80" stroke-width="1.0"/>
<path d="M134.00,437.80 L136.20,433.00 L143.60,433.00 L141.40,437.80Z" fill="#c80f35"/>
<path d="M135.60,446.10 L138.40,440.70 L132.80,440.70Z" fill="#5a1d63"/>
<rect x="136.30" y="440.70" width="5.00" height="5.00" fill="#5a1d63"/>
<rect x="279.00" y="379.00" width="4.00" height="4.00" fill="white" stroke="#808080" stroke-width="1.0"/>
<rect x="283.00" y="379.00" width="4.00" height="4.00" fill="white" stroke="#808080" stroke-width="1.0"/>
<circle cx="288.60" cy="381.00" r="2.20" fill="white" stroke="#dcaa7a" stroke-width="1.0"/>
<line x1="259.4" y1="427.7" x2="286.5" y2="385.1" stroke="#38578a" stroke-width="0.9"/>
<line x1="260.8" y1="427.7" x2="288.5" y2="387.2" stroke="#c04058" stroke-width="0.9"/>
<rect x="284.50" y="391.40" width="5.00" height="5.00" fill="#3b4658"/>
<circle cx="289.40" cy="393.90" r="2.70" fill="#3b4658"/>
<rect x="259.50" y="405.40" width="5.00" height="5.00" fill="#c80f35"/>
<circle cx="264.40" cy="407.90" r="2.70" fill="#c80f35"/>
<rect x="270.40" y="411.00" width="4.00" height="4.00" fill="white" stroke="#5a9a80" stroke-width="1.0"/>
<circle cx="274.80" cy="413.00" r="2.20" fill="white" stroke="#5a9a80" stroke-width="1.0"/>
<rect x="262.80" y="410.50" width="5.00" height="5.00" fill="#1d4f86"/>
<circle cx="267.70" cy="413.00" r="2.70" fill="#1d4f86"/>
<rect x="256.80" y="429.20" width="5.00" height="5.00" fill="#5a1d63"/>
<circle cx="261.70" cy="431.70" r="2.70" fill="#5a1d63"/>
<rect x="267.70" y="430.30" width="5.00" height="5.00" fill="#d4771c"/>
<circle cx="274.20" cy="432.80" r="2.70" fill="#d4771c"/>
<line x1="386.2" y1="424" x2="410.7" y2="399.6" stroke="#3a68a0" stroke-width="0.9"/>
<rect x="408.70" y="387.70" width="5.00" height="5.00" fill="#3b4658"/>
<rect x="394.60" y="400.60" width="4.60" height="4.60" fill="white" stroke="#5a9a80" stroke-width="1.0"/>
<rect x="403.60" y="401.70" width="4.60" height="4.60" fill="white" stroke="#4a70a0" stroke-width="1.0"/>
<rect x="404.20" y="414.90" width="4.60" height="4.60" fill="white" stroke="#dcaa7a" stroke-width="1.0"/>
<rect x="381.70" y="416.80" width="5.00" height="5.00" fill="#5a1d63"/>
<rect x="387.50" y="417.80" width="5.00" height="5.00" fill="#1d4f86"/>
<rect x="384.30" y="425.40" width="5.00" height="5.00" fill="#c80f35"/>
<rect x="391.60" y="424.60" width="5.00" height="5.00" fill="#d4771c"/>
<rect x="0.5" y="0.5" width="519" height="480" fill="none" stroke="#4a4a4a" stroke-width="1"/>
</svg></body></html>
